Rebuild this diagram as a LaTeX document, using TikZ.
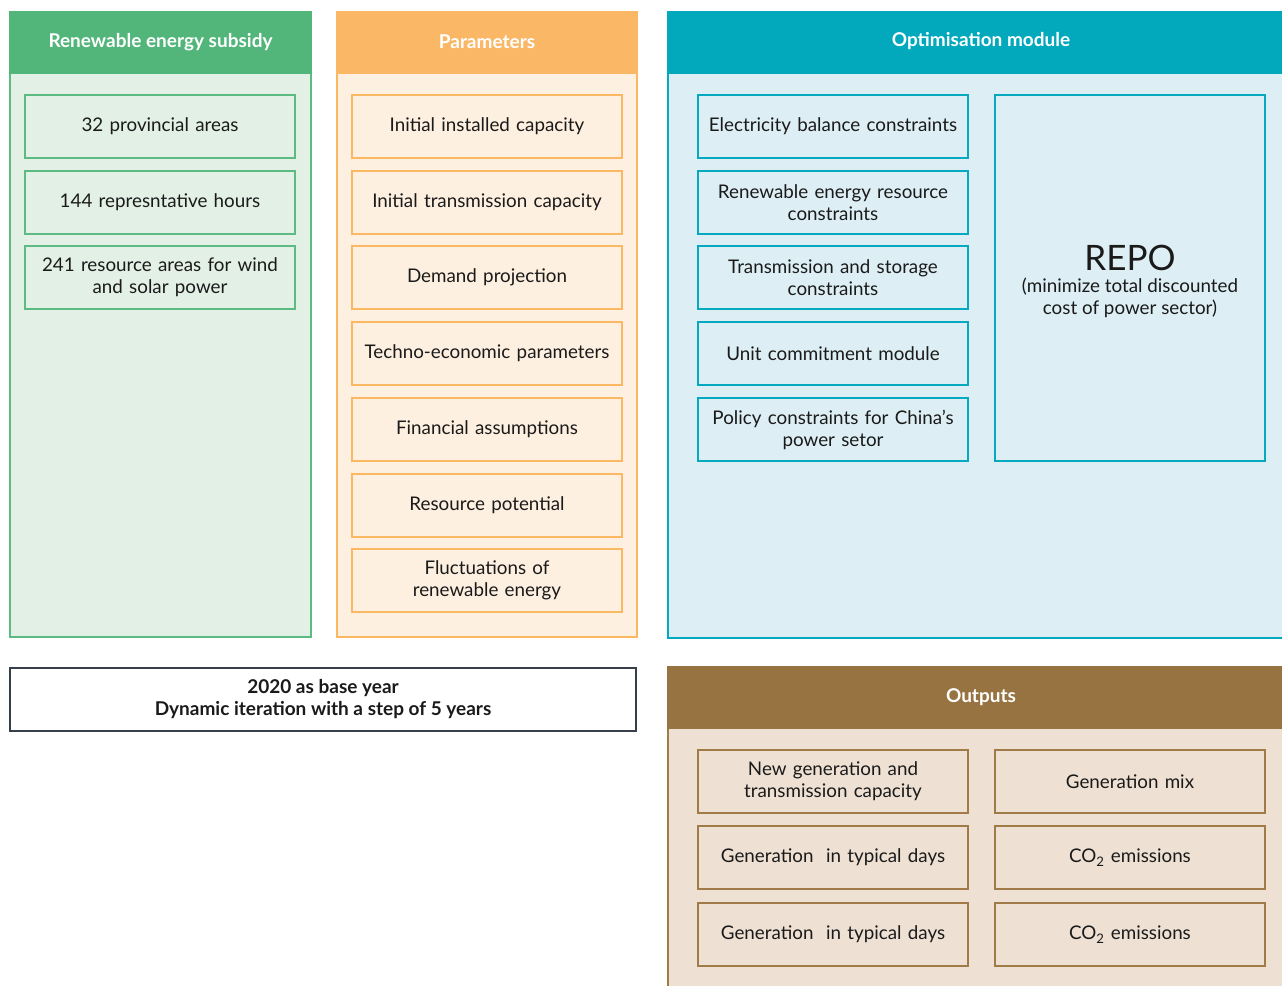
\documentclass[tikz,border=0pt]{standalone}
\usepackage{fontspec}
\setmainfont{Lato}
\definecolor{gH}{HTML}{52B67B}
\definecolor{gB}{HTML}{E3F0E5}
\definecolor{gL}{HTML}{5BBB80}
\definecolor{oH}{HTML}{FAB866}
\definecolor{oB}{HTML}{FEF0E0}
\definecolor{oL}{HTML}{FBB862}
\definecolor{tH}{HTML}{02A9BC}
\definecolor{tB}{HTML}{DDEFF5}
\definecolor{tL}{HTML}{06AAC0}
\definecolor{bH}{HTML}{987342}
\definecolor{bB}{HTML}{EEE1D3}
\definecolor{bL}{HTML}{A07B48}
\definecolor{dk}{HTML}{363F4A}
\definecolor{tx}{HTML}{1A1A1A}
\tikzset{
  panel/.style={line width=2.5pt},
  head/.style={inner sep=0pt, text=white, font=\fontsize{19}{22}\selectfont\bfseries},
  ibox/.style={line width=2.6pt, minimum width=270pt, minimum height=63pt, inner sep=0pt, outer sep=0pt, align=center, text=tx, font=\fontsize{18.8}{22}\selectfont, text width=266pt},
}
\begin{document}
\begin{tikzpicture}[x=1pt,y=-1pt]
\clip (0,0) rectangle (1282,985);
\fill[white] (0,0) rectangle (1282,985);
% green panel
\draw[panel, draw=gL, fill=gB] (10,12) rectangle (311,637);
\fill[gH] (8.75,10.75) rectangle (312.25,74);
\node[head] (gh) at (160.5,42) {Renewable energy subsidy};
\node[ibox, draw=gL, fill=gB] (g1) at (160,126.5) {32 provincial areas};
\node[ibox, draw=gL, fill=gB] (g2) at (160,202.5) {144 represntative hours};
\node[ibox, draw=gL, fill=gB] (g3) at (160,277.5) {241 resource areas for wind\\and solar power};
% orange panel
\draw[panel, draw=oL, fill=oB] (337,12) rectangle (637,637);
\fill[oH] (335.75,10.75) rectangle (638.25,74);
\node[head] (oh) at (487,42) {Parameters};
\node[ibox, draw=oL, fill=oB] (o1) at (487,126.5) {Initial installed capacity};
\node[ibox, draw=oL, fill=oB] (o2) at (487,202.5) {Initial transmission capacity};
\node[ibox, draw=oL, fill=oB] (o3) at (487,277.5) {Demand projection};
\node[ibox, draw=oL, fill=oB] (o4) at (487,353.5) {Techno-economic parameters};
\node[ibox, draw=oL, fill=oB] (o5) at (487,429.5) {Financial assumptions};
\node[ibox, draw=oL, fill=oB] (o6) at (487,505.5) {Resource potential};
\node[ibox, draw=oL, fill=oB] (o7) at (487,580.5) {Fluctuations of\\renewable energy};
% teal panel
\draw[panel, draw=tL, fill=tB] (668,12) rectangle (1295,638);
\fill[tH] (666.75,10.75) rectangle (1295,74);
\node[head] (th) at (981,41) {Optimisation module};
\node[ibox, draw=tL, fill=tB] (t1) at (833,126.5) {Electricity balance constraints};
\node[ibox, draw=tL, fill=tB] (t2) at (833,202.5) {Renewable energy resource\\constraints};
\node[ibox, draw=tL, fill=tB] (t3) at (833,277.5) {Transmission and storage\\constraints};
\node[ibox, draw=tL, fill=tB] (t4) at (833,353.5) {Unit commitment module};
\node[ibox, draw=tL, fill=tB] (t5) at (833,429.5) {Policy constraints for China’s\\power setor};
\node[ibox, draw=tL, fill=tB, minimum height=366pt] (repo) at (1130,278) {};
\node[align=center, text=tx, inner sep=0pt, font=\fontsize{18.8}{22}\selectfont] (repot) at (1130,281) {{\fontsize{35}{36}\selectfont REPO}\\(minimize total discounted\\cost of power sector)};
% base year box
\node[draw=dk, line width=2.5pt, fill=white, minimum width=626pt, minimum height=63pt, inner sep=0pt, align=center, text=tx, font=\fontsize{19}{22}\selectfont\bfseries] (base) at (323,699.5) {2020 as base year\\Dynamic iteration with a step of 5 years};
% outputs panel
\draw[panel, draw=bL, fill=bB] (668,667) rectangle (1295,1000);
\fill[bH] (666.75,665.75) rectangle (1295,729);
\node[head] (bh) at (981,697) {Outputs};
\node[ibox, draw=bL, fill=bB] (b1) at (833,781.5) {New generation and\\transmission capacity};
\node[ibox, draw=bL, fill=bB] (b2) at (1130,781.5) {Generation mix};
\node[ibox, draw=bL, fill=bB] (b3) at (833,857.5) {Generation\ \ in typical days};
\node[ibox, draw=bL, fill=bB] (b4) at (1130,857.5) {CO\textsubscript{2} emissions};
\node[ibox, draw=bL, fill=bB] (b5) at (833,934.5) {Generation\ \ in typical days};
\node[ibox, draw=bL, fill=bB] (b6) at (1130,934.5) {CO\textsubscript{2} emissions};
\end{tikzpicture}
\end{document}
